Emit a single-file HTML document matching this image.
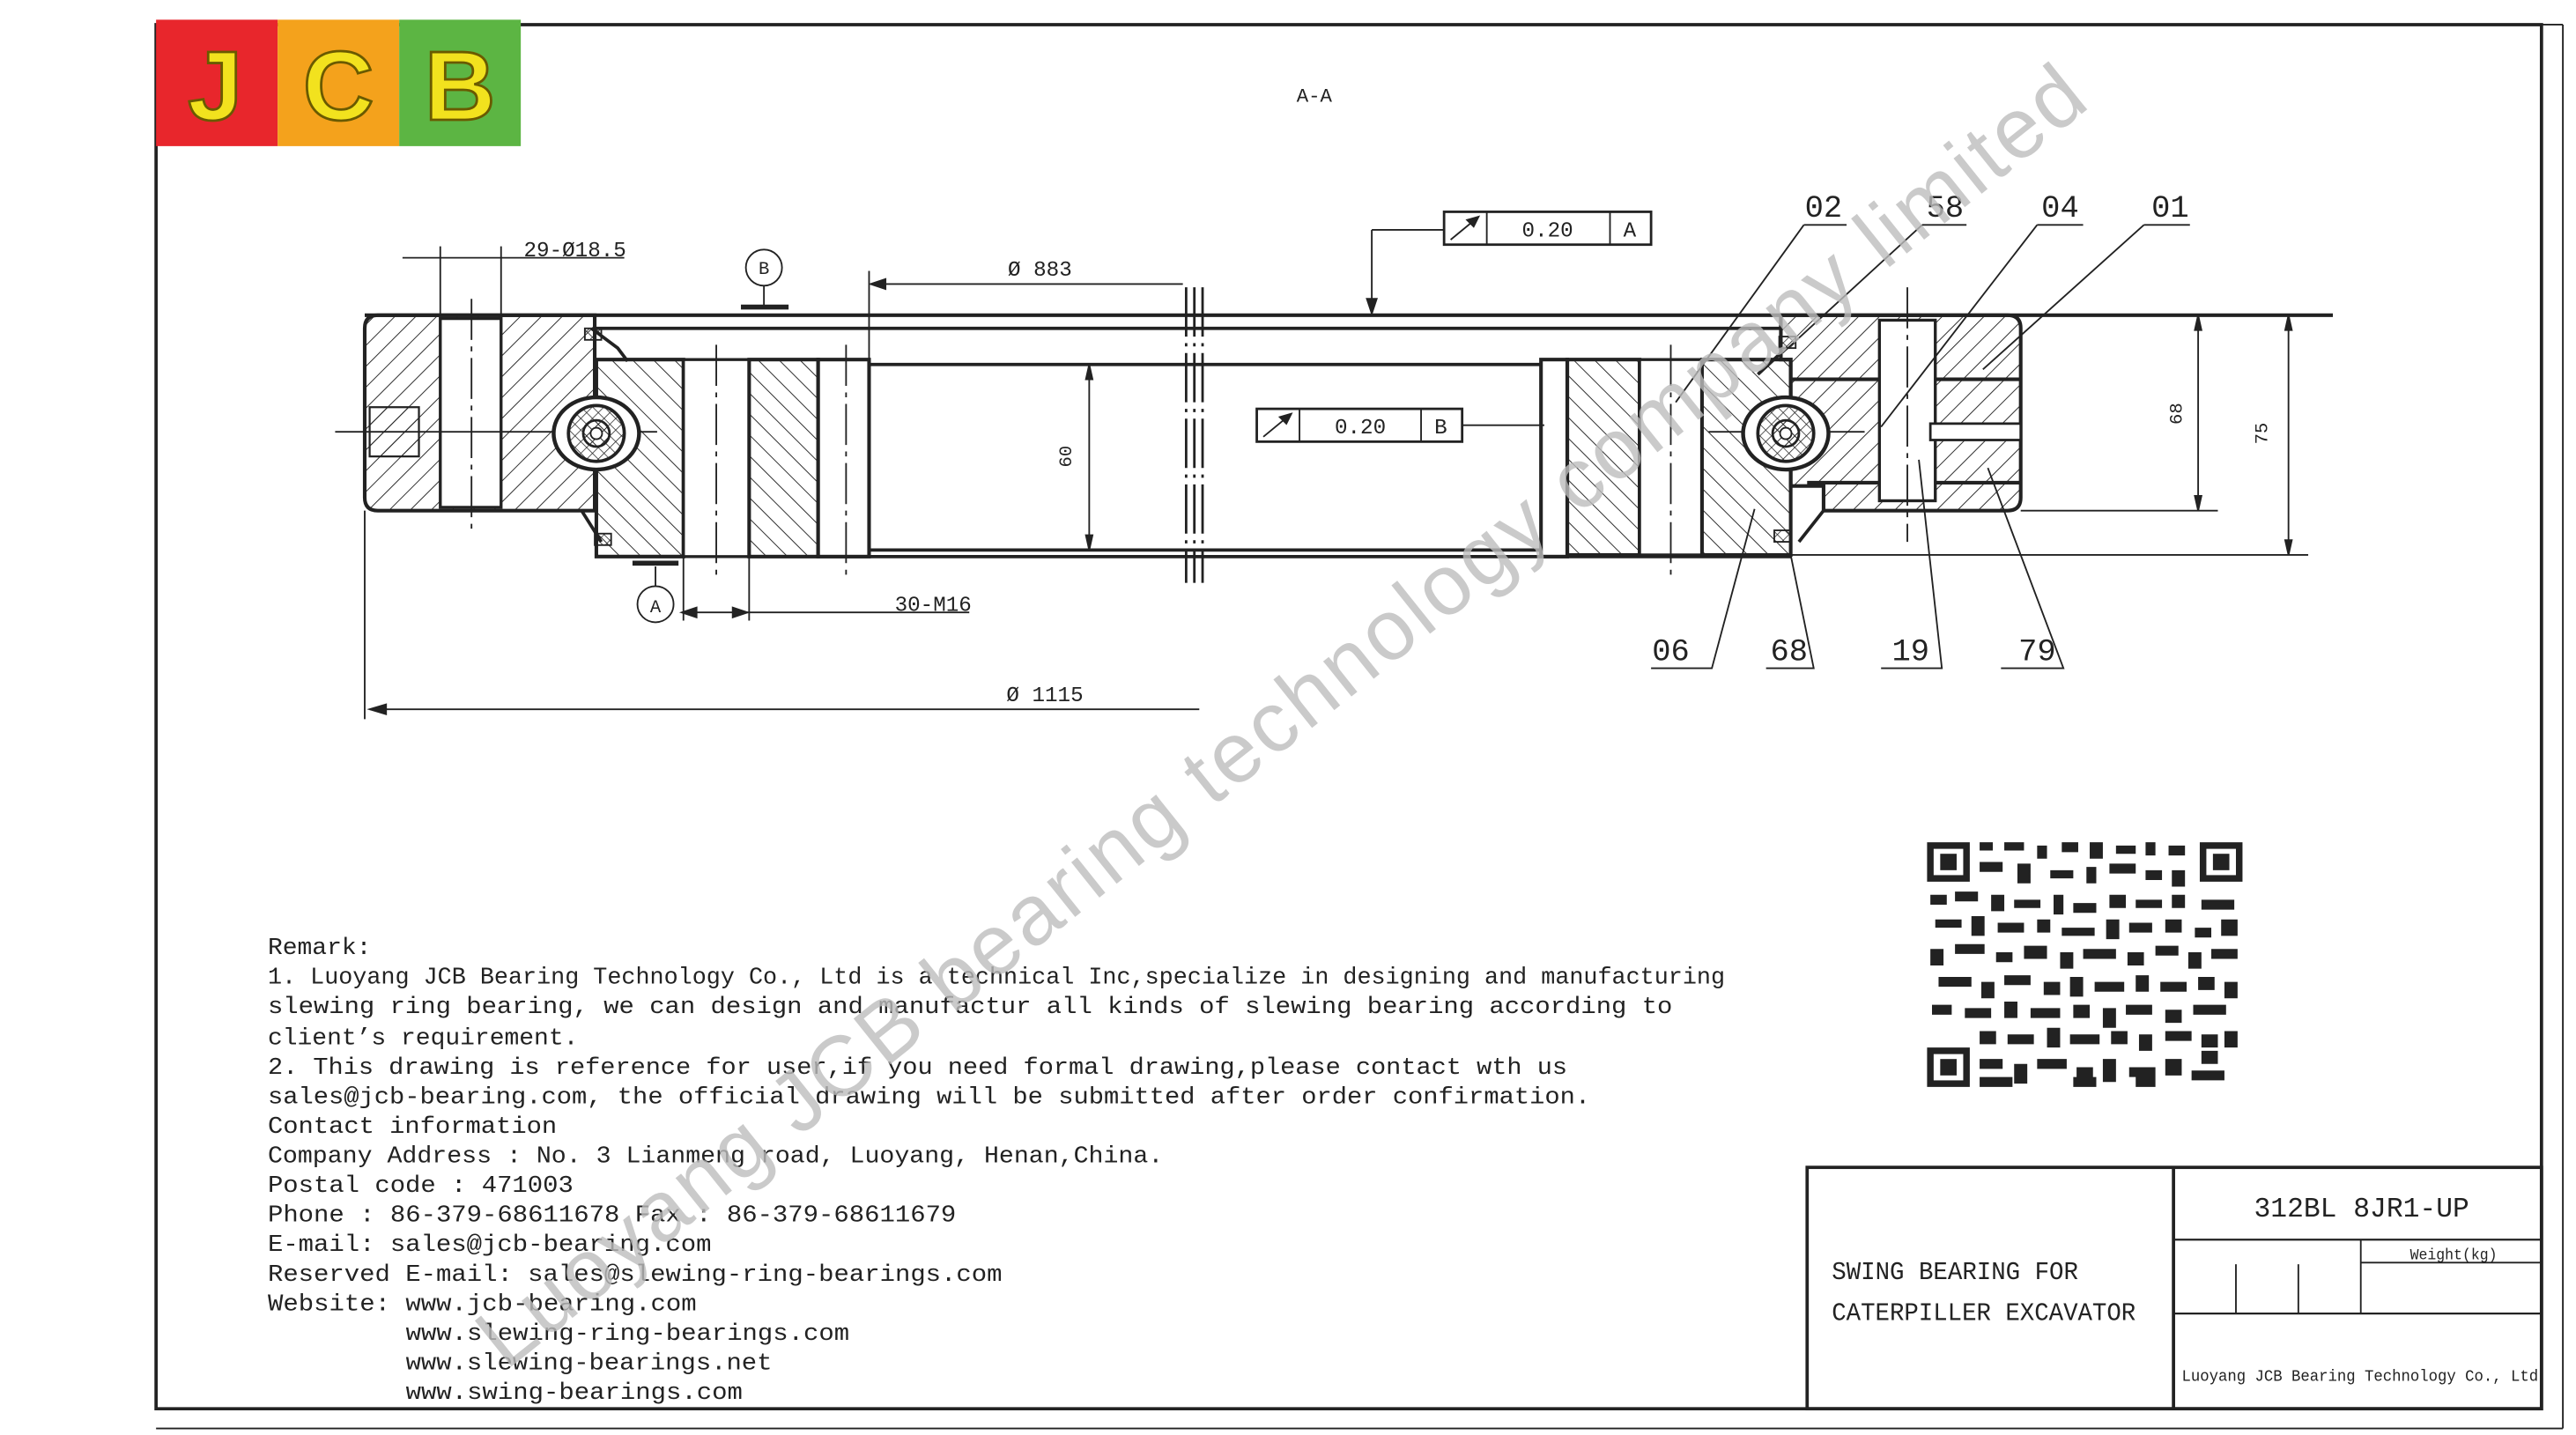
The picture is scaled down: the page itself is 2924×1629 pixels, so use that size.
<!DOCTYPE html>
<html><head><meta charset="utf-8"><style>
html,body{margin:0;padding:0;background:#fff;}
svg{display:block;}
text{font-family:"Liberation Mono",monospace;fill:#222;}
.n{font-family:"Liberation Sans",sans-serif;}
</style></head><body>
<svg width="2924" height="1629" viewBox="0 0 1568 874" preserveAspectRatio="none" xmlns="http://www.w3.org/2000/svg">
<defs>
<pattern id="h1" width="9" height="9" patternUnits="userSpaceOnUse" patternTransform="rotate(45)"><line x1="0" y1="0" x2="0" y2="9" stroke="#222" stroke-width="1"/></pattern>
<pattern id="h2" width="9" height="9" patternUnits="userSpaceOnUse" patternTransform="rotate(-45)"><line x1="0" y1="0" x2="0" y2="9" stroke="#222" stroke-width="1"/></pattern>
<pattern id="h3" width="5" height="5" patternUnits="userSpaceOnUse" patternTransform="rotate(45)"><line x1="0" y1="0" x2="0" y2="5" stroke="#222" stroke-width="0.8"/><line x1="0" y1="0" x2="5" y2="0" stroke="#222" stroke-width="0.8"/></pattern>
</defs>
<rect width="1568" height="874" fill="#fff"/>
<g stroke="#222" fill="none">
<path d="M95 15 H1547 V858 H95 Z" stroke-width="2"/>
<line x1="1547" y1="15" x2="1560" y2="15" stroke-width="1"/>
<line x1="1560" y1="15" x2="1560" y2="870" stroke-width="1"/>
<line x1="95" y1="870" x2="1560" y2="870" stroke-width="1"/>
</g>
<rect x="95" y="12" width="74" height="77" fill="#e8262c"/>
<rect x="169" y="12" width="74" height="77" fill="#f4a21c"/>
<rect x="243" y="12" width="74" height="77" fill="#5cb543"/>
<text x="131" y="73" class="n" font-size="60" font-weight="bold" text-anchor="middle" stroke="#6a5a00" stroke-width="1.5" style="fill:#f2e21e">J</text>
<text x="206" y="73" class="n" font-size="60" font-weight="bold" text-anchor="middle" stroke="#6a5a00" stroke-width="1.5" style="fill:#f2e21e">C</text>
<text x="280" y="73" class="n" font-size="60" font-weight="bold" text-anchor="middle" stroke="#6a5a00" stroke-width="1.5" style="fill:#f2e21e">B</text>
<text x="800" y="62" font-size="12" text-anchor="middle">A-A</text>

<g stroke="#222" stroke-width="2.2">
<path d="M230 192 H362 V311 H230 Q222 311 222 303 V200 Q222 192 230 192 Z" fill="url(#h1)"/>
<rect x="268" y="194" width="37" height="115" fill="#fff" stroke-width="1.8"/>
<rect x="225" y="248" width="30" height="30" fill="url(#h1)" stroke-width="1.2"/>
<path d="M363 219 H416 V339 H363 Z" fill="url(#h2)"/>
<rect x="416" y="219" width="40" height="120" fill="#fff" stroke-width="1.8"/>
<rect x="456" y="219" width="42" height="120" fill="url(#h2)"/>
<rect x="498" y="219" width="31" height="120" fill="#fff"/>
<rect x="938" y="219" width="16" height="120" fill="#fff"/>
<rect x="954" y="219" width="44" height="119" fill="url(#h2)"/>
<rect x="998" y="219" width="38" height="119" fill="#fff" stroke-width="1.8"/>
<rect x="1036" y="219" width="54" height="119" fill="url(#h2)"/>
<path d="M1084 192 H1222 Q1230 192 1230 200 V303 Q1230 311 1222 311 H1110 V296 H1090 V219 H1084 Z" fill="url(#h1)"/>
<rect x="1144" y="195" width="34" height="110" fill="#fff" stroke-width="1.8"/>
<line x1="1178" y1="231" x2="1230" y2="231"/><line x1="1090" y1="231" x2="1144" y2="231"/>
<rect x="1175" y="258" width="55" height="10" fill="#fff" stroke-width="1.5"/>
<line x1="1178" y1="294" x2="1230" y2="294"/><line x1="1100" y1="294" x2="1144" y2="294"/>
</g>
<g stroke="#222" fill="none">
<line x1="222" y1="192" x2="1420" y2="192" stroke-width="2.2"/>
<line x1="362" y1="200" x2="1084" y2="200" stroke-width="2"/>
<line x1="529" y1="222" x2="938" y2="222" stroke-width="2"/>
<line x1="529" y1="335" x2="938" y2="335" stroke-width="2"/>
<line x1="498" y1="339" x2="1090" y2="339" stroke-width="2"/>
<line x1="1230" y1="311" x2="1350" y2="311" stroke-width="1"/>
<line x1="1090" y1="338" x2="1405" y2="338" stroke-width="1"/>
<line x1="1230" y1="192" x2="1405" y2="192" stroke-width="1"/>
<line x1="722" y1="175" x2="722" y2="355" stroke-width="1.5" stroke-dasharray="30 4 2 4"/>
<line x1="727" y1="175" x2="727" y2="355" stroke-width="1.5" stroke-dasharray="30 4 2 4"/>
<line x1="732" y1="175" x2="732" y2="355" stroke-width="1.5" stroke-dasharray="30 4 2 4"/>
<line x1="287" y1="182" x2="287" y2="322" stroke-width="1" stroke-dasharray="25 4 3 4"/>
<line x1="436" y1="210" x2="436" y2="350" stroke-width="1" stroke-dasharray="25 4 3 4"/>
<line x1="515" y1="210" x2="515" y2="350" stroke-width="1" stroke-dasharray="25 4 3 4"/>
<line x1="1017" y1="210" x2="1017" y2="350" stroke-width="1" stroke-dasharray="25 4 3 4"/>
<line x1="1161" y1="175" x2="1161" y2="330" stroke-width="1" stroke-dasharray="25 4 3 4"/>
<line x1="204" y1="263" x2="400" y2="263" stroke-width="1"/>
<line x1="1040" y1="263" x2="1135" y2="263" stroke-width="1"/>
<line x1="222" y1="311" x2="222" y2="438" stroke-width="1"/>
<path d="M360 200 L376 212 L382 220" stroke-width="2"/>
<path d="M354 311 L366 330" stroke-width="2"/>
<path d="M1084 215 L1070 228" stroke-width="2"/>
<path d="M1110 311 L1095 330" stroke-width="2"/>
</g>
<rect x="356" y="200" width="10" height="7" fill="url(#h3)" stroke="#222"/>
<rect x="362" y="325" width="10" height="7" fill="url(#h3)" stroke="#222"/>
<rect x="1083" y="205" width="10" height="7" fill="url(#h3)" stroke="#222"/>
<rect x="1080" y="323" width="10" height="7" fill="url(#h3)" stroke="#222"/>
<g stroke="#222">
<ellipse cx="363" cy="264" rx="26" ry="22" fill="#fff" stroke-width="2.4"/>
<circle cx="363" cy="264" r="17" fill="url(#h3)" stroke-width="2"/>
<circle cx="363" cy="264" r="8" fill="url(#h3)" stroke-width="1.5"/>
<circle cx="363" cy="264" r="3.5" fill="#fff" stroke-width="1"/>
<ellipse cx="1087" cy="264" rx="26" ry="22" fill="#fff" stroke-width="2.4"/>
<circle cx="1087" cy="264" r="17" fill="url(#h3)" stroke-width="2"/>
<circle cx="1087" cy="264" r="8" fill="url(#h3)" stroke-width="1.5"/>
<circle cx="1087" cy="264" r="3.5" fill="#fff" stroke-width="1"/>
</g>
<g stroke="#222" stroke-width="1" fill="none">
<line x1="245" y1="157" x2="380" y2="157"/>
<line x1="268" y1="150" x2="268" y2="192"/><line x1="305" y1="150" x2="305" y2="192"/>
<line x1="530" y1="173" x2="720" y2="173"/><path d="M530 173 l9 -3 v6 z" fill="#222"/>
<line x1="529" y1="165" x2="529" y2="219"/>
<line x1="663" y1="222" x2="663" y2="335"/><path d="M663 222 l-2 9 h4z M663 335 l-2 -9 h4z" fill="#222"/>
<line x1="225" y1="432" x2="730" y2="432"/><path d="M225 432 l10 -3 v6z" fill="#222"/>
<line x1="415" y1="373" x2="590" y2="373"/><path d="M415 373 l9 -3 v6z M455 373 l-9 -3 v6z" fill="#222"/>
<line x1="416" y1="339" x2="416" y2="378"/><line x1="456" y1="339" x2="456" y2="378"/>
<line x1="1338" y1="192" x2="1338" y2="311"/><path d="M1338 192 l-2 9 h4z M1338 311 l-2 -9 h4z" fill="#222"/>
<line x1="1393" y1="192" x2="1393" y2="338"/><path d="M1393 192 l-2 9 h4z M1393 338 l-2 -9 h4z" fill="#222"/>
<circle cx="465" cy="163" r="11"/><line x1="465" y1="174" x2="465" y2="186"/>
<line x1="451" y1="187" x2="480" y2="187" stroke-width="3"/>
<circle cx="399" cy="368" r="11"/><line x1="399" y1="357" x2="399" y2="345"/>
<line x1="385" y1="343" x2="413" y2="343" stroke-width="3"/>
<rect x="879" y="129" width="126" height="20" stroke-width="1.5"/>
<line x1="905" y1="129" x2="905" y2="149"/><line x1="980" y1="129" x2="980" y2="149"/>
<path d="M883 146 L900 132"/><path d="M900 132 l-7 2 l4 4z" fill="#222"/>
<line x1="879" y1="140" x2="835" y2="140"/><line x1="835" y1="140" x2="835" y2="189"/>
<path d="M835 191 l-3 -9 h6z" fill="#222"/>
<rect x="765" y="249" width="125" height="20" stroke-width="1.5"/>
<line x1="791" y1="249" x2="791" y2="269"/><line x1="865" y1="249" x2="865" y2="269"/>
<path d="M769 266 L786 252"/><path d="M786 252 l-7 2 l4 4z" fill="#222"/>
<line x1="890" y1="259" x2="940" y2="259"/>
<path d="M1098 137 H1124 M1098 137 L1020 245"/>
<path d="M1170 137 H1197 M1170 137 L1085 215"/>
<path d="M1240 137 H1268 M1240 137 L1145 260"/>
<path d="M1305 137 H1333 M1305 137 L1207 225"/>
<path d="M1005 407 H1042 L1068 310"/>
<path d="M1075 407 H1104 L1090 338"/>
<path d="M1145 407 H1182 L1168 280"/>
<path d="M1218 407 H1256 L1210 285"/>
</g>
<g font-size="13">
<text x="350" y="156" text-anchor="middle">29-Ø18.5</text>
<text x="633" y="168" text-anchor="middle">Ø 883</text>
<text x="465" y="167" text-anchor="middle" font-size="11">B</text>
<text x="399" y="373" text-anchor="middle" font-size="11">A</text>
<text x="568" y="372" text-anchor="middle">30-M16</text>
<text x="636" y="427" text-anchor="middle">Ø 1115</text>
<text x="942" y="144" text-anchor="middle">0.20</text>
<text x="992" y="144" text-anchor="middle">A</text>
<text x="828" y="264" text-anchor="middle">0.20</text>
<text x="877" y="264" text-anchor="middle">B</text>
<text transform="translate(652,278) rotate(-90)" text-anchor="middle" font-size="11">60</text>
<text transform="translate(1328,252) rotate(-90)" text-anchor="middle" font-size="11">68</text>
<text transform="translate(1380,264) rotate(-90)" text-anchor="middle" font-size="11">75</text>
</g>
<g font-size="19">
<text x="1110" y="132" text-anchor="middle">02</text>
<text x="1184" y="132" text-anchor="middle">58</text>
<text x="1254" y="132" text-anchor="middle">04</text>
<text x="1321" y="132" text-anchor="middle">01</text>
<text x="1017" y="402" text-anchor="middle">06</text>
<text x="1089" y="402" text-anchor="middle">68</text>
<text x="1163" y="402" text-anchor="middle">19</text>
<text x="1240" y="402" text-anchor="middle">79</text>
</g>

<g fill="#222">
<rect x="1173" y="512" width="192" height="150" fill="#fff"/>
<rect x="1173" y="513" width="26" height="24"/><rect x="1177" y="517" width="18" height="16" fill="#fff"/><rect x="1181" y="520" width="10" height="10"/>
<rect x="1339" y="513" width="26" height="24"/><rect x="1343" y="517" width="18" height="16" fill="#fff"/><rect x="1347" y="520" width="10" height="10"/>
<rect x="1173" y="638" width="26" height="24"/><rect x="1177" y="642" width="18" height="16" fill="#fff"/><rect x="1181" y="645" width="10" height="10"/>
<path d="M1205 513h8v5h-8zM1220 513h12v5h-12zM1240 515h6v8h-6zM1255 513h10v6h-10zM1272 513h8v10h-8zM1288 515h12v5h-12zM1306 513h6v8h-6zM1320 515h10v6h-10z
M1205 525h14v6h-14zM1228 526h8v12h-8zM1248 530h14v5h-14zM1270 528h6v10h-6zM1284 526h16v6h-16zM1306 530h10v6h-10zM1322 530h8v10h-8z
M1175 545h10v6h-10zM1190 543h14v6h-14zM1212 545h8v10h-8zM1226 548h16v5h-16zM1250 545h6v12h-6zM1262 550h14v6h-14zM1284 545h10v8h-10zM1300 548h16v5h-16zM1322 545h8v8h-8zM1340 548h20v6h-20z
M1178 560h16v5h-16zM1200 558h8v12h-8zM1216 562h16v6h-16zM1240 560h8v8h-8zM1255 565h20v5h-20zM1282 560h8v12h-8zM1296 562h14v6h-14zM1318 560h10v8h-10zM1336 565h10v6h-10zM1352 560h10v10h-10z
M1175 578h8v10h-8zM1190 575h18v6h-18zM1215 580h10v6h-10zM1232 576h14v8h-14zM1254 580h8v10h-8zM1268 578h20v6h-20zM1295 580h10v8h-10zM1312 576h14v6h-14zM1332 580h8v10h-8zM1346 578h16v6h-16z
M1180 595h20v6h-20zM1206 598h8v10h-8zM1220 594h16v6h-16zM1244 598h10v8h-10zM1260 595h8v12h-8zM1275 598h18v6h-18zM1300 594h8v10h-8zM1315 598h16v6h-16zM1338 595h10v8h-10zM1354 598h8v10h-8z
M1176 612h12v6h-12zM1196 614h16v6h-16zM1220 610h8v10h-8zM1236 614h18v6h-18zM1262 612h10v8h-10zM1280 614h8v12h-8zM1294 612h16v6h-16zM1318 615h10v8h-10zM1335 612h20v6h-20z
M1205 628h10v8h-10zM1222 630h16v6h-16zM1246 626h8v12h-8zM1260 630h18v6h-18zM1285 628h10v8h-10zM1302 630h8v10h-8zM1318 628h16v6h-16zM1340 630h10v8h-10zM1354 628h8v10h-8z
M1205 645h14v6h-14zM1226 648h8v12h-8zM1240 645h18v6h-18zM1264 650h10v8h-10zM1280 645h8v14h-8zM1296 650h16v6h-16zM1318 645h10v10h-10zM1334 652h20v6h-20z
M1205 656h20v6h-20zM1262 656h14v6h-14zM1300 656h12v6h-12zM1340 640h10v8h-10z"/>
</g>

<g font-size="14.4">
<text x="163" y="581" textLength="63" lengthAdjust="spacingAndGlyphs">Remark:</text>
<text x="163" y="599" textLength="887" lengthAdjust="spacingAndGlyphs">1. Luoyang JCB Bearing Technology Co., Ltd is a technical Inc,specialize in designing and manufacturing</text>
<text x="163" y="617" textLength="855" lengthAdjust="spacingAndGlyphs">slewing ring bearing, we can design and manufactur all kinds of slewing bearing according to</text>
<text x="163" y="636" textLength="189" lengthAdjust="spacingAndGlyphs">client’s requirement.</text>
<text x="163" y="654" textLength="791" lengthAdjust="spacingAndGlyphs">2. This drawing is reference for user,if you need formal drawing,please contact wth us</text>
<text x="163" y="672" textLength="805" lengthAdjust="spacingAndGlyphs">sales@jcb-bearing.com, the official drawing will be submitted after order confirmation.</text>
<text x="163" y="690" textLength="176" lengthAdjust="spacingAndGlyphs">Contact information</text>
<text x="163" y="708" textLength="545" lengthAdjust="spacingAndGlyphs">Company Address : No. 3 Lianmeng road, Luoyang, Henan,China.</text>
<text x="163" y="726" textLength="186" lengthAdjust="spacingAndGlyphs">Postal code : 471003</text>
<text x="163" y="744" textLength="419" lengthAdjust="spacingAndGlyphs">Phone : 86-379-68611678 Fax : 86-379-68611679</text>
<text x="163" y="762" textLength="270" lengthAdjust="spacingAndGlyphs">E-mail: sales@jcb-bearing.com</text>
<text x="163" y="780" textLength="447" lengthAdjust="spacingAndGlyphs">Reserved E-mail: sales@slewing-ring-bearings.com</text>
<text x="163" y="798" textLength="261" lengthAdjust="spacingAndGlyphs">Website: www.jcb-bearing.com</text>
<text x="247" y="816" textLength="270" lengthAdjust="spacingAndGlyphs">www.slewing-ring-bearings.com</text>
<text x="247" y="834" textLength="223" lengthAdjust="spacingAndGlyphs">www.slewing-bearings.net</text>
<text x="247" y="852" textLength="205" lengthAdjust="spacingAndGlyphs">www.swing-bearings.com</text>
</g>

<g stroke="#222" fill="none">
<rect x="1100" y="711" width="447" height="147" stroke-width="2"/>
<line x1="1323" y1="711" x2="1323" y2="858" stroke-width="2"/>
<line x1="1323" y1="755" x2="1547" y2="755" stroke-width="1.2"/>
<line x1="1437" y1="769" x2="1547" y2="769"/>
<line x1="1323" y1="800" x2="1547" y2="800" stroke-width="1.2"/>
<line x1="1361" y1="770" x2="1361" y2="800"/>
<line x1="1399" y1="770" x2="1399" y2="800"/>
<line x1="1437" y1="755" x2="1437" y2="800"/>
</g>
<text x="1372" y="741" font-size="17" textLength="131" lengthAdjust="spacingAndGlyphs">312BL 8JR1-UP</text>
<text x="1467" y="767" font-size="9.5" textLength="53" lengthAdjust="spacingAndGlyphs">Weight(kg)</text>
<text x="1328" y="841" font-size="10" textLength="217" lengthAdjust="spacingAndGlyphs">Luoyang JCB Bearing Technology Co., Ltd</text>
<text x="1115" y="779" font-size="15.5" textLength="150" lengthAdjust="spacingAndGlyphs">SWING BEARING FOR</text>
<text x="1115" y="804" font-size="15.5" textLength="185" lengthAdjust="spacingAndGlyphs">CATERPILLER EXCAVATOR</text>

<text transform="translate(308,835) rotate(-38.6)" class="n" font-size="52" style="fill:#bdbdbd;fill-opacity:0.8" textLength="1235">Luoyang JCB bearing technology company limited</text>
</svg>
</body></html>
